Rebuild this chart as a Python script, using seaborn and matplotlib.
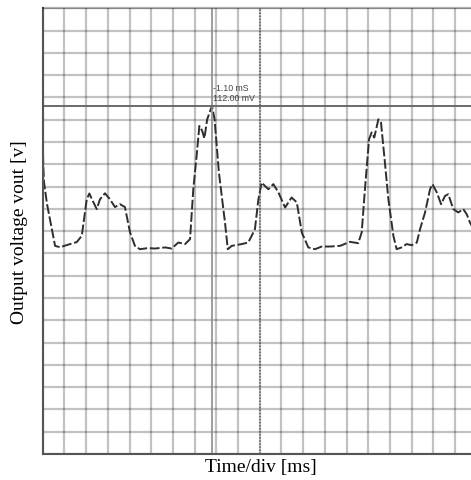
import matplotlib
matplotlib.use("Agg")
import matplotlib.pyplot as plt
import seaborn as sns
import pandas as pd
import numpy as np

# oscilloscope trace, in screen divisions (20 x 20 grid)
time_div = [0.00, 0.03, 0.06, 0.20, 0.57, 0.80, 1.26, 1.57, 1.80, 2.03, 2.15, 2.27, 2.49, 2.64,
            2.87, 3.10, 3.33, 3.56, 3.79, 4.02, 4.25, 4.48, 4.85, 5.17, 5.64, 5.94, 6.25, 6.56,
            6.79, 6.94, 7.10, 7.22, 7.35, 7.45, 7.58, 7.80, 7.92, 8.12, 8.40, 8.53, 8.71, 9.17,
            9.47, 9.63, 9.78, 9.94, 10.09, 10.24, 10.40, 10.63, 10.86, 11.17, 11.47, 11.71, 11.94,
            12.24, 12.55, 12.86, 13.24, 13.70, 14.16, 14.54, 14.70, 14.85, 15.04, 15.16, 15.28,
            15.47, 15.59, 15.77, 15.93, 16.16, 16.31, 16.54, 16.77, 17.00, 17.24, 17.39, 17.62,
            17.85, 17.96, 18.16, 18.36, 18.54, 18.69, 18.92, 19.15, 19.38, 19.54, 19.69, 19.97]
vout_div = [13.99, 12.91, 12.20, 11.21, 9.34, 9.28, 9.42, 9.51, 9.79, 11.43, 11.69, 11.43, 10.99,
            11.43, 11.70, 11.43, 11.08, 11.21, 11.08, 9.96, 9.34, 9.19, 9.24, 9.22, 9.27, 9.22,
            9.49, 9.42, 9.64, 11.88, 13.45, 14.72, 14.50, 14.16, 15.02, 15.62, 15.02, 12.63,
            10.39, 9.19, 9.34, 9.42, 9.49, 9.79, 10.09, 11.43, 12.18, 12.03, 11.88, 12.11, 11.74,
            11.06, 11.51, 11.29, 9.94, 9.27, 9.19, 9.31, 9.31, 9.34, 9.52, 9.46, 9.94, 11.88,
            14.13, 14.43, 14.20, 15.02, 14.87, 13.08, 11.43, 9.79, 9.19, 9.27, 9.42, 9.37, 9.49,
            10.09, 10.84, 11.88, 12.11, 11.74, 11.21, 11.58, 11.66, 10.99, 10.84, 10.99, 10.76,
            10.39, 9.87]

cursor_x = 7.82
cursor_y = 15.62
cursor_text = ["-1.10 mS", "112.00 mV"]

df = pd.DataFrame({"t": time_div, "v": vout_div})

sns.set_theme(style="white")
plt.rcParams["font.family"] = ["Liberation Serif", "DejaVu Serif"]

fig = plt.figure(figsize=(4.71, 4.81), dpi=100)
ax = fig.add_axes([42.7 / 471, 26 / 481, 434 / 471, 445.7 / 481])

sns.lineplot(data=df, x="t", y="v", ax=ax, estimator=None, sort=False,
             color="#2e2e2e", linewidth=1.4)
ax.lines[-1].set_dashes([5, 1.4])

ax.set_xlim(0, 20)
ax.set_ylim(0, 20)
ax.set_xticks(np.arange(0, 21, 1))
ax.set_yticks(np.arange(0, 21, 1))
ax.tick_params(length=0, labelbottom=False, labelleft=False)
ax.grid(True, color="black", alpha=0.24, linewidth=1.6)
ax.set_axisbelow(True)
ax.set_xlabel("")
ax.set_ylabel("")
ax.spines["right"].set_visible(False)
ax.spines["top"].set_color((0, 0, 0, 0.3))
ax.spines["top"].set_linewidth(1.6)
for side in ["left", "bottom"]:
    ax.spines[side].set_color("#555555")
    ax.spines[side].set_linewidth(1.5)

# cursors
ax.axvline(cursor_x, color="#8c8c8c", linewidth=1.2)
ax.axhline(cursor_y, color="#6a6a6a", linewidth=1.4)
ax.axvline(10, color="#5a5a5a", linewidth=1.1, linestyle=(0, (1, 1)))

ax.text(7.87, 16.46, cursor_text[0], fontsize=6.3, color="#444444",
        family="Liberation Sans", va="center", ha="left")
ax.text(7.87, 16.01, cursor_text[1], fontsize=6.3, color="#444444",
        family="Liberation Sans", va="center", ha="left")

# axis titles
fig.text(261 / 471, 1 - 468 / 481, "Time/div [ms]", fontsize=14, color="black",
         ha="center", va="center")
fig.text(20 / 471, 1 - 232 / 481, "Output voltage vout [v]", fontsize=14, color="black",
         ha="center", va="center", rotation=90)

fig.savefig("out.png", dpi=100)
